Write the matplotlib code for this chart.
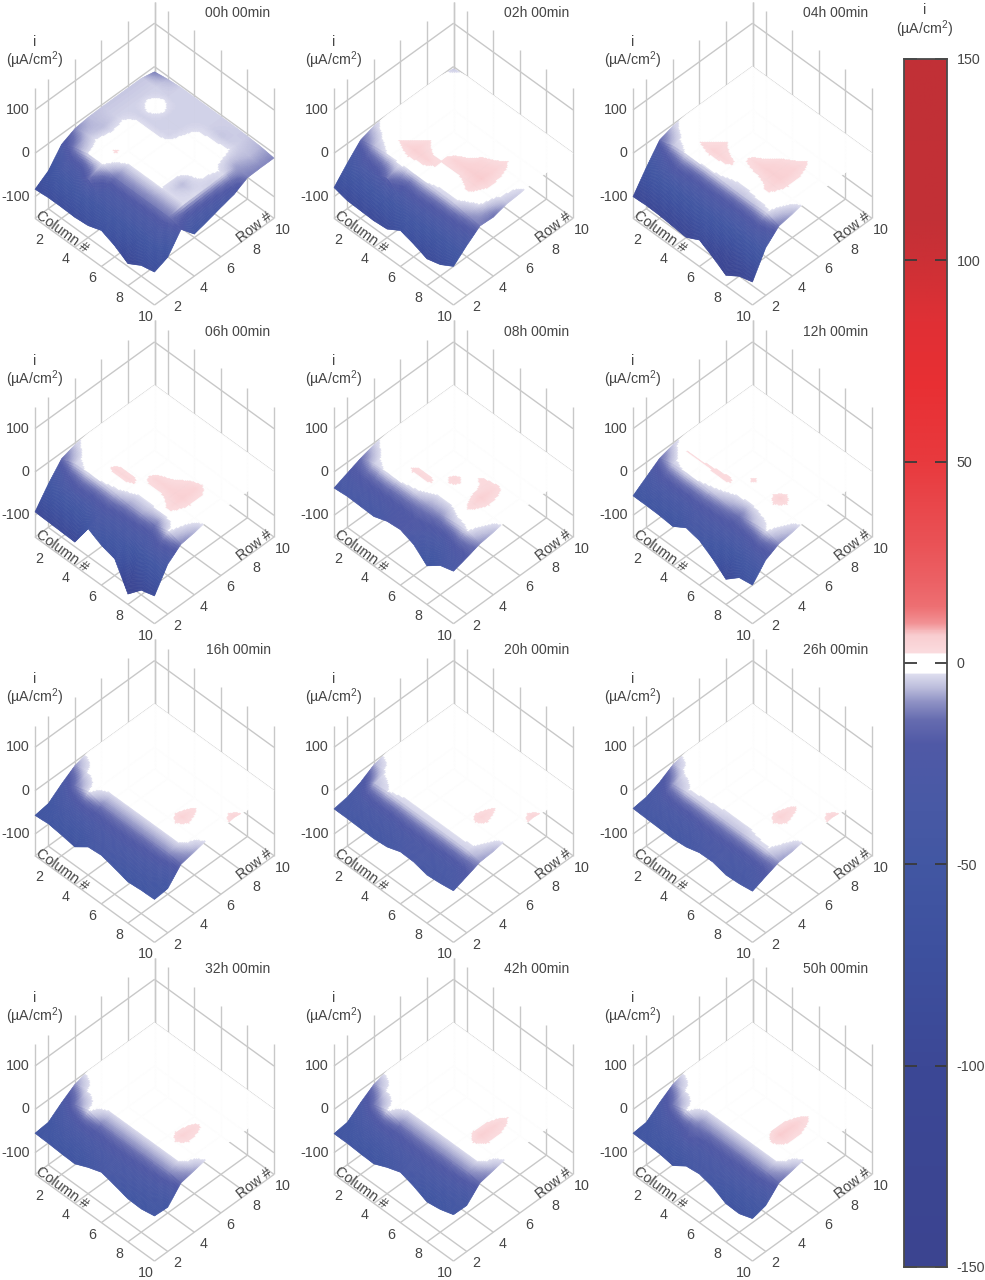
import numpy as np
import matplotlib
matplotlib.use("Agg")
import matplotlib.pyplot as plt
from matplotlib.colors import LinearSegmentedColormap, Normalize
from mpl_toolkits.mplot3d import proj3d

plt.rcParams['font.family'] = ['Liberation Sans', 'DejaVu Sans']
plt.rcParams['mathtext.default'] = 'regular'
plt.rcParams['axes.unicode_minus'] = False

W, H = 985, 1280
COLUMNS = [1, 2, 3, 4, 5, 6, 7, 8, 9, 10]
ROWS = [1, 2, 3, 4, 5, 6, 7, 8, 9, 10]
TIME_LABELS = ['00h 00min', '02h 00min', '04h 00min', '06h 00min', '08h 00min', '12h 00min',
               '16h 00min', '20h 00min', '26h 00min', '32h 00min', '42h 00min', '50h 00min']
AXIS_TICKS = [2, 4, 6, 8, 10]
Z_TICKS = [-100, 0, 100]
BAR_TICKS = [-150, -100, -50, 0, 50, 100, 150]

# current density, one list per row (1..10), values per column (1..10)
I_00H = [[-83, -80, -80, -81, -78, -67, -80, -99, -81, -74],
         [-63, -35, -35, -14, -35, -35, -35, -38, -35, -62],
         [-24, -10, -2, -2, -12, -12, -12, -12, -12, -20],
         [-10, -5, 0, 3, -2, -2, -2, -3, -3, -53],
         [-6, -6, -1, 0, 0, 0, 0, -6, -3, -45],
         [-5, -4, -1, -1, -1, -1, 0, -1, -4, -36],
         [-5, -4, -4, -4, -3.5, -1, -1, -1, -3, -28],
         [-5, -4, 0, -4, -4, -2, -1, -1, -8, -12],
         [-5, -4, -4, -4, -4, -4, -5, -4, -6, -11],
         [-12, -7, -4, -4, -4, -4, -4, -5, -7, -11]]
I_02H = [[-79, -87, -88, -89, -86, -67, -76, -88, -79, -61],
         [-45, -28, -25, -12, -28, -25, -28, -30, -30, -35],
         [-14, -6, -2, -1, -2.5, -2.5, -3.3, -4, -9, -12],
         [-4, 0, 3, 6, 5, 0, 0, 3, -1, -14],
         [0, 0, 0, 3, 0, 5, 6, 7, 0, -6],
         [0, 0, 0, 0, 0, 0, 4, 5, 0, -4],
         [0, 0, 0, 0, 0, 0, 0, 2.5, 0, 0],
         [0, 0, 0, 0, 0, 0, 0, 0, 0, 0],
         [0, 0, 0, 0, 0, 0, 0, 0, 0, 0],
         [-5, 0, 0, 0, 0, 0, 0, 0, 0, 0]]
I_04H = [[-100, -98, -99, -102, -105, -89, -106, -126, -106, -97],
         [-55, -35, -25, -30, -30, -30, -32, -32, -30, -40],
         [-14, -5, -2, -2.5, -3, -4, -5, -5, -3, -12],
         [-4, 0, 2.5, 5, 4, 0, 0, 3, 0, -7],
         [0, 0, 0, 2.5, 0, 4, 6, 6, 0, 0],
         [0, 0, 0, 0, 0, 0, 3.5, 5, 0, 0],
         [0, 0, 0, 0, 0, 0, 0, 2.6, 0, 0],
         [0, 0, 0, 0, 0, 0, 0, 0, 0, 0],
         [0, 0, 0, 0, 0, 0, 0, 0, 0, 0],
         [0, 0, 0, 0, 0, 0, 0, 0, 0, 0]]
I_06H = [[-92, -93, -94, -95, -42, -58, -67, -126, -95, -86],
         [-50, -32, -25, -28, -25, -30, -32, -35, -28, -35],
         [-14, -4, -1.5, -2.6, -4.5, -8, -8, -12, -2.4, -11],
         [-4, 0, 0, 4, 4, 0, 0, 3, 0, -7],
         [0, 0, 0, 0, 0, 4.5, 5, 6, 0, 0],
         [0, 0, 0, 0, 0, 0, 2.5, 5, 0, 0],
         [0, 0, 0, 0, 0, 0, 0, 0, 0, 0],
         [0, 0, 0, 0, 0, 0, 0, 0, 0, 0],
         [0, 0, 0, 0, 0, 0, 0, 0, 0, 0],
         [0, 0, 0, 0, 0, 0, 0, 0, 0, 0]]
I_08H = [[-37, -34, -35, -36, -25, -22, -34, -61, -38, -29],
         [-25, -22, -23, -22, -22, -20, -24, -30, -22, -20],
         [-13, -4, -1.5, -2.5, -4, -8, -9, -4.5, -2.4, -10],
         [-4, 0, 0, 3.5, 3.5, 0, 0, 2.5, 0, -6],
         [0, 0, 0, 0, 0, 4, 0, 6, 0, 0],
         [0, 0, 0, 0, 0, 0, 3, 4, 0, 0],
         [0, 0, 0, 0, 0, 0, 0, 0, 0, 0],
         [0, 0, 0, 0, 0, 0, 0, 0, 0, 0],
         [0, 0, 0, 0, 0, 0, 0, 0, 0, 0],
         [0, 0, 0, 0, 0, 0, 0, 0, 0, 0]]
I_12H = [[-55, -55, -56, -59, -40, -47, -67, -92, -66, -61],
         [-34, -26, -25, -26, -24, -25, -27, -32, -26, -25],
         [-13, -4, -1.5, -2.6, -4.7, -8, -12, -6, -2.4, -10],
         [-4, 2.5, 2.6, 3, 3.5, 0, 0, 0, 0, -6],
         [0, 0, 0, 0, 0, 3, 0, 5, 0, 0],
         [0, 0, 0, 0, 0, 0, 0, 0, 0, 0],
         [0, 0, 0, 0, 0, 0, 0, 0, 0, 0],
         [0, 0, 0, 0, 0, 0, 0, 0, 0, 0],
         [0, 0, 0, 0, 0, 0, 0, 0, 0, 0],
         [0, 0, 0, 0, 0, 0, 0, 0, 0, 0]]
I_16H = [[-57, -54, -58, -63, -41, -38, -46, -55, -52, -51],
         [-52, -38, -32, -30, -28, -28, -28, -30, -35, -48],
         [-29, -12, -2, -10, -10, -10, -10, -10, -10, -14],
         [-9, -1.5, 0, 0, 0, 0, 0, 0, 0, -8],
         [0, 0, 0, 0, 0, 0, 0, 5, 0, -1],
         [0, 0, 0, 0, 0, 0, 0, 2.6, 0, 0],
         [0, 0, 0, 0, 0, 0, 0, 0, 0, 5],
         [0, 0, 0, 0, 0, 0, 0, 0, 0, 0],
         [0, 0, 0, 0, 0, 0, 0, 0, 0, 0],
         [0, 0, 0, 0, 0, 0, 0, 0, 0, 0]]
I_20H = [[-42, -42, -43, -44, -41, -30, -31, -39, -36, -31],
         [-37, -30, -28, -28, -26, -26, -26, -28, -28, -20],
         [-25, -6, -2.5, -3.5, -3.5, -3.5, -3.5, -3.5, -4, -9],
         [-7, -1, 0, 0, 0, 0, 0, 0, 0, -7],
         [0, 0, 0, 0, 0, 0, 0, 4.5, 0, -1],
         [0, 0, 0, 0, 0, 0, 0, 2.6, 0, 0],
         [0, 0, 0, 0, 0, 0, 0, 0, 0, 5],
         [0, 0, 0, 0, 0, 0, 0, 0, 0, 0],
         [0, 0, 0, 0, 0, 0, 0, 0, 0, 0],
         [0, 0, 0, 0, 0, 0, 0, 0, 0, 0]]
I_26H = [[-41, -42, -43, -44, -41, -32, -31, -39, -37, -32],
         [-37, -30, -28, -28, -26, -26, -26, -28, -28, -20],
         [-25, -8, -3, -3.5, -4, -5, -5, -3.5, -3, -9],
         [-7, -1, 0, 0, 0, 0, 0, 0, 0, -7],
         [0, 0, 0, 0, 0, 0, 0, 5, 0, -1],
         [0, 0, 0, 0, 0, 0, 0, 3, 0, 0],
         [0, 0, 0, 0, 0, 0, 0, 0, 0, 5],
         [0, 0, 0, 0, 0, 0, 0, 0, 0, 0],
         [0, 0, 0, 0, 0, 0, 0, 0, 0, 0],
         [0, 0, 0, 0, 0, 0, 0, 0, 0, 0]]
I_32H = [[-55, -56, -58, -59, -45, -34, -42, -51, -52, -46],
         [-52, -38, -32, -30, -28, -28, -28, -30, -35, -48],
         [-29, -12, -2, -10, -10, -10, -10, -10, -10, -14],
         [-9, -1.5, 0, 0, 0, 0, 0, 0, 0, -8],
         [0, 0, 0, 0, 0, 0, 0, 5, 0, -1],
         [0, 0, 0, 0, 0, 0, 0, 3.6, 0, 0],
         [0, 0, 0, 0, 0, 0, 0, 0, 0, 0],
         [0, 0, 0, 0, 0, 0, 0, 0, 0, 0],
         [0, 0, 0, 0, 0, 0, 0, 0, 0, 0],
         [0, 0, 0, 0, 0, 0, 0, 0, 0, 0]]
I_42H = [[-56, -56, -58, -59, -45, -34, -44, -58, -53, -43],
         [-52, -38, -32, -30, -28, -28, -28, -30, -35, -44],
         [-29, -12, -2, -10, -10, -10, -10, -10, -10, -14],
         [-9, -1.5, 0, 0, 0, 0, 0, 0, 0, -8],
         [0, 0, 0, 0, 0, 0, 0, 6, 0, -1],
         [0, 0, 0, 0, 0, 0, 0, 5, 0, 0],
         [0, 0, 0, 0, 0, 0, 0, 2.5, 0, 0],
         [0, 0, 0, 0, 0, 0, 0, 0, 0, 0],
         [0, 0, 0, 0, 0, 0, 0, 0, 0, 0],
         [0, 0, 0, 0, 0, 0, 0, 0, 0, 0]]
I_50H = [[-55, -56, -58, -63, -42, -38, -46, -62, -63, -52],
         [-52, -38, -32, -20, -28, -28, -28, -30, -35, -44],
         [-29, -12, -2, -10, -10, -10, -10, -10, -10, -14],
         [-9, -1.5, 0, 0, 0, 0, 0, 0, 0, -8],
         [0, 0, 0, 0, 0, 0, 0, 7, 0, -1],
         [0, 0, 0, 0, 0, 0, 0, 6, 0, 0],
         [0, 0, 0, 0, 0, 0, 0, 2.8, 0, 0],
         [0, 0, 0, 0, 0, 0, 0, 0, 0, 0],
         [0, 0, 0, 0, 0, 0, 0, 0, 0, 0],
         [0, 0, 0, 0, 0, 0, 0, 0, 0, 0]]
PANELS = [I_00H, I_02H, I_04H, I_06H, I_08H, I_12H, I_16H, I_20H, I_26H, I_32H, I_42H, I_50H]

CMAP_VALUES = [-150, -100, -70, -50, -30, -20, -14, -9.5, -6, -2.39, -2.38, 2.38,
               2.39, 7, 10, 14, 20, 30, 50, 70, 85, 100, 110, 150]
CMAP_COLORS = ['#3b4490', '#3c4896', '#3e519f', '#4257a3', '#4b5aa6', '#5059a6', '#666cb0',
               '#8f92c5', '#bcbddc', '#e0e0f0', '#ffffff', '#ffffff',
               '#fbdde0', '#f9cdd0', '#f29295', '#ee7073', '#ec6266',
               '#ea5256', '#e83a3e', '#e82f33', '#e03035', '#cc3036', '#c33036', '#c13037']

GRID = '#c8c8c8'
TEXT = '#454545'
FS = 10.3
UNIT = '(µA/cm$^{2}$)'
SUB = 12

norm = Normalize(-150, 150)
cmap = LinearSegmentedColormap.from_list(
    'current', [((v + 150) / 300, c) for v, c in zip(CMAP_VALUES, CMAP_COLORS)], N=1200)

fig = plt.figure(figsize=(W / 100, H / 100), dpi=100, facecolor='white')


def ftext(x, y, s, **kw):
    kw.setdefault('color', TEXT)
    kw.setdefault('fontsize', FS)
    kw.setdefault('ha', 'center')
    kw.setdefault('va', 'center')
    return fig.text(x / W, 1 - y / H, s, **kw)


def to_px(ax, c, r, z):
    px, py, _ = proj3d.proj_transform(c, r, z, ax.get_proj())
    return ax.transData.transform((px, py))


def label3d(ax, c, r, z, s, **kw):
    """Write a tick label at the place a (column, row, current) point lands in the figure."""
    x, y = to_px(ax, c, r, z)
    return ftext(x, H - y, s, **kw)


def fit(ax, ox, oy):
    """Scale and shift the 3D box so its floor corners land on the panel's frame."""
    aspect = (1, 1, 1.118)
    ax.set_box_aspect(aspect, zoom=1)
    ax.apply_aspect()
    w = to_px(ax, 10, 10, -150)[0] - to_px(ax, 1, 1, -150)[0]
    ax.set_box_aspect(aspect, zoom=239.0 / w)
    ax.apply_aspect()
    bx, by = to_px(ax, 10, 1, -150)
    tx, ty = ox + 154.5, H - (oy + 305)
    p = ax.get_position(original=True)
    ax.set_position([p.x0 + (tx - bx) / W, p.y0 + (ty - by) / H, p.width, p.height])
    ax.apply_aspect()


def refine(z):
    fine = np.linspace(1, 10, 9 * SUB + 1)
    a = np.array([np.interp(fine, COLUMNS, row) for row in np.asarray(z, float)])
    b = np.array([np.interp(fine, ROWS, a[:, j]) for j in range(a.shape[1])]).T
    return fine, b


S = 360
for k, (data, label) in enumerate(zip(PANELS, TIME_LABELS)):
    i, j = divmod(k, 3)
    ox, oy = 299 * j, 318.7 * i
    ax = fig.add_axes([(ox + 154.5 - S / 2) / W, 1 - (oy + 154 + S / 2) / H, S / W, S / H],
                      projection='3d', computed_zorder=False)
    ax.patch.set_alpha(0)
    ax.set_proj_type('ortho')
    ax.view_init(elev=46.5, azim=-45)
    ax.set_xlim(1, 10)
    ax.set_ylim(1, 10)
    ax.set_zlim(-150, 150)
    ax.set_xticks([])
    ax.set_yticks([])
    ax.set_zticks([])
    ax.set_axis_off()
    fit(ax, ox, oy)

    lk = dict(color=GRID, lw=1.0, zorder=1, solid_capstyle='butt')
    for c in [1] + AXIS_TICKS:
        ax.plot([c, c], [1, 10], [-150, -150], **lk)
        ax.plot([c, c], [10, 10], [-150, 150], **lk)
    for r in [1] + AXIS_TICKS:
        ax.plot([1, 10], [r, r], [-150, -150], **lk)
        ax.plot([1, 1], [r, r], [-150, 150], **lk)
    for z in Z_TICKS:
        ax.plot([1, 1], [1, 10], [z, z], **lk)
        ax.plot([1, 10], [10, 10], [z, z], **lk)

    fine, zz = refine(data)
    cc, rr = np.meshgrid(fine, fine)
    ax.plot_surface(cc, rr, zz, facecolors=cmap(norm(zz)), rstride=1, cstride=1,
                    linewidth=0.4, antialiased=True, shade=False, zorder=3)

    for z in Z_TICKS:
        label3d(ax, 0.8, 0.8, z, str(z), ha='right')
    for t in AXIS_TICKS:
        label3d(ax, t + 0.28, 0.04, -150, str(t))
        label3d(ax, 10.96, t - 0.28, -150, str(t))

    ftext(ox + 238, oy + 13, label, fontsize=10)
    ftext(ox + 35, oy + 42, 'i')
    ftext(ox + 35, oy + 60, UNIT)
    ftext(ox + 62, oy + 232, 'Column #', rotation=-36, rotation_mode='anchor')
    ftext(ox + 254, oy + 227, 'Row #', rotation=38, rotation_mode='anchor')

# colour bar
cax = fig.add_axes([904 / W, 1 - 1267 / H, 43 / W, (1267 - 59) / H])
vals = np.linspace(-150, 150, 1201).reshape(-1, 1)
cax.imshow(vals, origin='lower', aspect='auto', cmap=cmap, norm=norm, extent=(0, 1, -150, 150))
cax.set_xticks([])
cax.set_yticks(BAR_TICKS)
cax.tick_params(axis='y', direction='in', left=True, right=True, labelleft=False, labelright=True,
                length=9, width=1.3, color='#3a3a3a', labelcolor=TEXT, labelsize=FS, pad=7)
for s in cax.spines.values():
    s.set_color('#4a4a4a')
    s.set_linewidth(1.3)
ftext(925, 10, 'i')
ftext(925, 29, UNIT)

fig.savefig('out.png', dpi=100, facecolor='white')
